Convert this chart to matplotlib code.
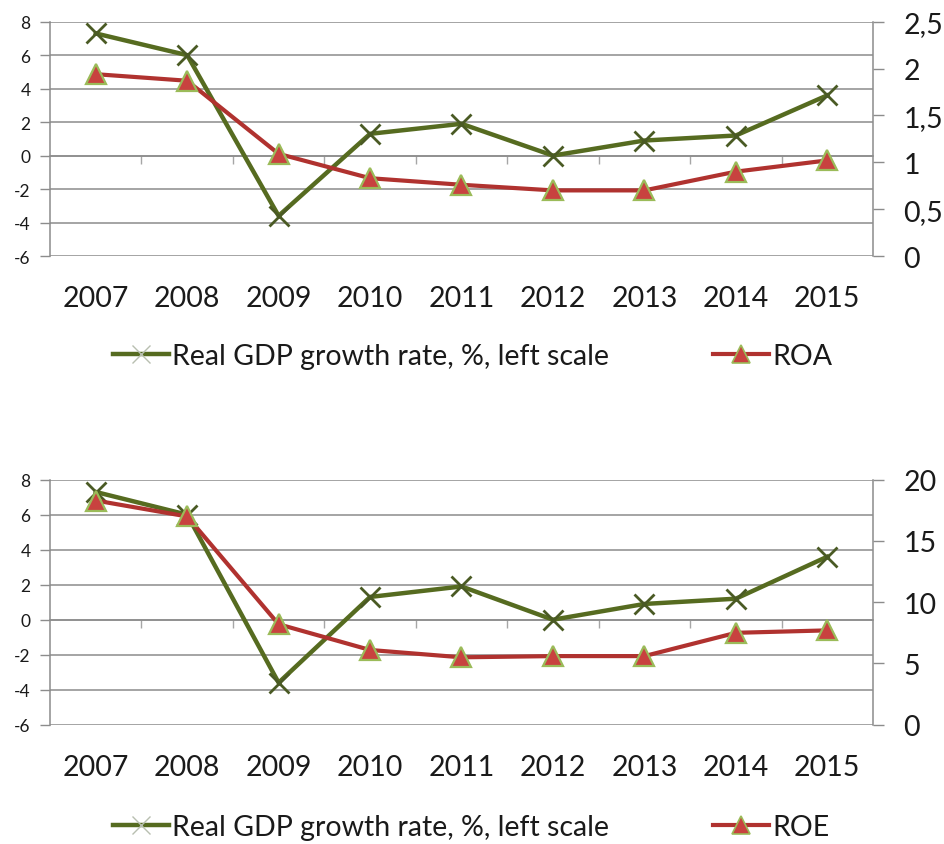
import matplotlib
matplotlib.use("Agg")
import matplotlib.pyplot as plt
from matplotlib.lines import Line2D

plt.rcParams["font.family"] = ["Lato", "DejaVu Sans"]

# ---- data ----
years = ["2007", "2008", "2009", "2010", "2011", "2012", "2013", "2014", "2015"]
gdp_growth = [7.3, 6.0, -3.6, 1.3, 1.9, 0.0, 0.9, 1.2, 3.6]
roa = [1.94, 1.87, 1.09, 0.83, 0.76, 0.70, 0.70, 0.90, 1.02]
roe = [18.3, 17.0, 8.2, 6.1, 5.5, 5.6, 5.6, 7.5, 7.7]

left_ticks = [-6, -4, -2, 0, 2, 4, 6, 8]
roa_ticks = [0, 0.5, 1, 1.5, 2, 2.5]
roa_tick_labels = ["0", "0,5", "1", "1,5", "2", "2,5"]
roe_ticks = [0, 5, 10, 15, 20]
roe_tick_labels = ["0", "5", "10", "15", "20"]

gdp_label = "Real GDP growth rate, %, left scale"

# ---- style ----
W, H = 945, 845
GDP_COLOR = "#566b20"
RED_LINE = "#b0322f"
TRI_FILL = "#c8423f"
TRI_EDGE = "#9bbb59"
GRID = "#8c8c8c"
SPINE = "#8c8c8c"
TEXT = "#1a1a1a"

fig = plt.figure(figsize=(W / 100, H / 100), dpi=100)


def rect(left, top, right, bottom):
    return [left / W, 1 - bottom / H, (right - left) / W, (bottom - top) / H]


def panel(box, right_vals, right_ticks, right_labels, right_name, legend_y):
    ax = fig.add_axes(rect(*box))
    x = list(range(len(years)))
    ymin, ymax = left_ticks[0], left_ticks[-1]

    ax.set_xlim(-0.5, len(years) - 0.5)
    ax.set_ylim(ymin, ymax)
    ax.set_yticks(left_ticks)
    ax.set_yticklabels([str(v) for v in left_ticks])
    ax.tick_params(axis="y", length=7, width=1, color=SPINE, direction="out",
                   pad=7, labelsize=12.5, labelcolor=TEXT)
    ax.set_xticks(x)
    ax.set_xticklabels(years)
    ax.tick_params(axis="x", length=0, pad=21, labelsize=20.5, labelcolor=TEXT)
    ax.grid(axis="y", color=GRID, linewidth=1.1)
    ax.set_axisbelow(True)
    for s in ("top", "right", "bottom"):
        ax.spines[s].set_visible(False)
    ax.spines["left"].set_color(SPINE)
    ax.spines["left"].set_linewidth(1.1)

    # category axis crossing at zero, with ticks between categories
    zero_pos = (0 - ymin) / (ymax - ymin)
    sec = ax.secondary_xaxis(zero_pos)
    sec.set_xticks([i + 0.5 for i in range(len(years) - 1)])
    sec.set_xticklabels([])
    sec.tick_params(axis="x", length=6, width=1, color="#a6a6a6", direction="out")
    for s in sec.spines.values():
        s.set_color(GRID)
        s.set_linewidth(1.1)

    ax.plot(x, gdp_growth, color=GDP_COLOR, linewidth=3.2, marker="x",
            markersize=15, markeredgewidth=2.0, markeredgecolor="#4a5a24",
            zorder=3, clip_on=False)

    ax2 = ax.twinx()
    ax2.set_ylim(right_ticks[0], right_ticks[-1])
    ax2.set_yticks(right_ticks)
    ax2.set_yticklabels(right_labels)
    ax2.tick_params(axis="y", length=8, width=1, color=SPINE, direction="out",
                    pad=14, labelsize=20.5, labelcolor=TEXT)
    for s in ("top", "left", "bottom"):
        ax2.spines[s].set_visible(False)
    ax2.spines["right"].set_color(SPINE)
    ax2.spines["right"].set_linewidth(1.1)
    ax2.plot(x, right_vals, color=RED_LINE, linewidth=3.0, marker="^",
             markersize=14, markerfacecolor=TRI_FILL, markeredgecolor=TRI_EDGE,
             markeredgewidth=1.6, zorder=3, clip_on=False)

    h_gdp = Line2D([], [], color=GDP_COLOR, linewidth=3.2, marker="x",
                   markersize=13, markeredgewidth=1.0, markeredgecolor="#b8bfb0")
    h_red = Line2D([], [], color=RED_LINE, linewidth=3.0, marker="^",
                   markersize=13, markerfacecolor=TRI_FILL,
                   markeredgecolor=TRI_EDGE, markeredgewidth=1.2)
    common = dict(loc="center left", frameon=False, borderpad=0,
                  borderaxespad=0, handlelength=1.95, handletextpad=0.12,
                  prop={"size": 20.5})
    l1 = fig.legend([h_gdp], [gdp_label], bbox_to_anchor=(113 / W, 1 - legend_y / H),
                    **common)
    l2 = fig.legend([h_red], [right_name], bbox_to_anchor=(713 / W, 1 - legend_y / H),
                    **common)
    for leg in (l1, l2):
        for t in leg.get_texts():
            t.set_color(TEXT)


panel((50, 22.7, 873, 257), roa, roa_ticks, roa_tick_labels, "ROA", 357)
panel((50, 480.7, 873, 725.7), roe, roe_ticks, roe_tick_labels, "ROE", 828)

fig.savefig("out.png", dpi=100, facecolor="white")
